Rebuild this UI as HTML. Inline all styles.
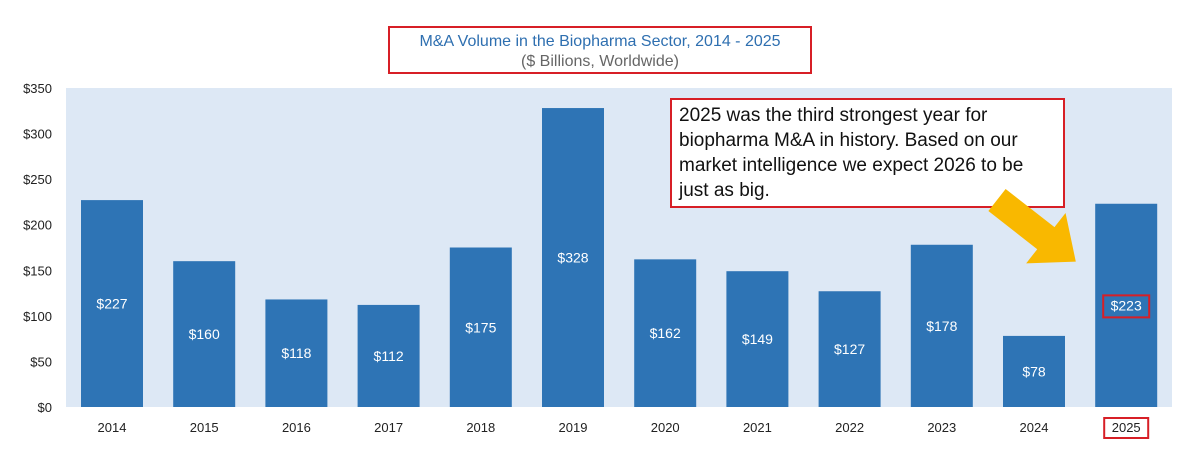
<!DOCTYPE html>
<html><head><meta charset="utf-8"><style>
body{margin:0;background:#fff;width:1200px;height:445px;overflow:hidden;font-family:"Liberation Sans",sans-serif}
</style></head><body>
<svg width="1200" height="445" xmlns="http://www.w3.org/2000/svg">
<rect x="389" y="27" width="422" height="46" fill="none" stroke="#d71f26" stroke-width="2"/>
<text x="600" y="46" text-anchor="middle" font-size="16" fill="#2e6fb0">M&amp;A Volume in the Biopharma Sector, 2014 - 2025</text>
<text x="600" y="66" text-anchor="middle" font-size="16" fill="#666">($ Billions, Worldwide)</text>
<rect x="66" y="88" width="1106" height="319" fill="#dde8f5"/>
<g id="yaxis"></g>
<g id="bars"></g>
<rect x="671" y="99" width="393" height="108" fill="#fff" stroke="#d71f26" stroke-width="2"/>
<g font-size="19" fill="#111">
<text x="679" y="121">2025 was the third strongest year for</text>
<text x="679" y="146">biopharma M&amp;A in history. Based on our</text>
<text x="679" y="171">market intelligence we expect 2026 to be</text>
<text x="679" y="196">just as big.</text>
</g>
<polygon points="0,-14 62,-14 62,-32 100,0 62,32 62,14 0,14" fill="#f9b800" transform="translate(997,200) rotate(38)"/>
</svg>
<script>
const categories=["2014","2015","2016","2017","2018","2019","2020","2021","2022","2023","2024","2025"];
const values=[227,160,118,112,175,328,162,149,127,178,78,223];
const yTicks=[0,50,100,150,200,250,300,350];
const NS="http://www.w3.org/2000/svg";
const y0=407,yTop=88,maxV=350;
function y(v){return y0-(v/maxV)*(y0-yTop);}
function xc(i){return 112+i*92.2;}
function mk(t,a,p){const e=document.createElementNS(NS,t);for(const k in a)e.setAttribute(k,a[k]);p.appendChild(e);return e;}
const ya=document.getElementById('yaxis');
yTicks.forEach(v=>{const t=mk('text',{x:52,y:y(v)+5,'text-anchor':'end','font-size':13,fill:'#222'},ya);


t.textContent='$'+v;});
const bg=document.getElementById('bars');
categories.forEach((c,i)=>{
const r=mk('rect',{x:xc(i)-31,y:y(values[i]),width:62,height:y0-y(values[i]),fill:'#2e74b5'},bg);


const ly=(y(values[i])+y0)/2+5;
const t=mk('text',{x:xc(i),y:ly,'text-anchor':'middle','font-size':14,fill:'#fff'},bg);


t.textContent='$'+values[i];
const xl=mk('text',{x:xc(i),y:432,'text-anchor':'middle','font-size':13,fill:'#222'},bg);


xl.textContent=c;
if(c==="2025"){
const b1=mk('rect',{x:xc(i)-23,y:ly-15,width:46,height:22,fill:'none',stroke:'#d71f26','stroke-width':2},bg);


const b2=mk('rect',{x:xc(i)-22,y:418,width:44,height:20,fill:'none',stroke:'#d71f26','stroke-width':2},bg);


}
});
</script>
</body></html>
